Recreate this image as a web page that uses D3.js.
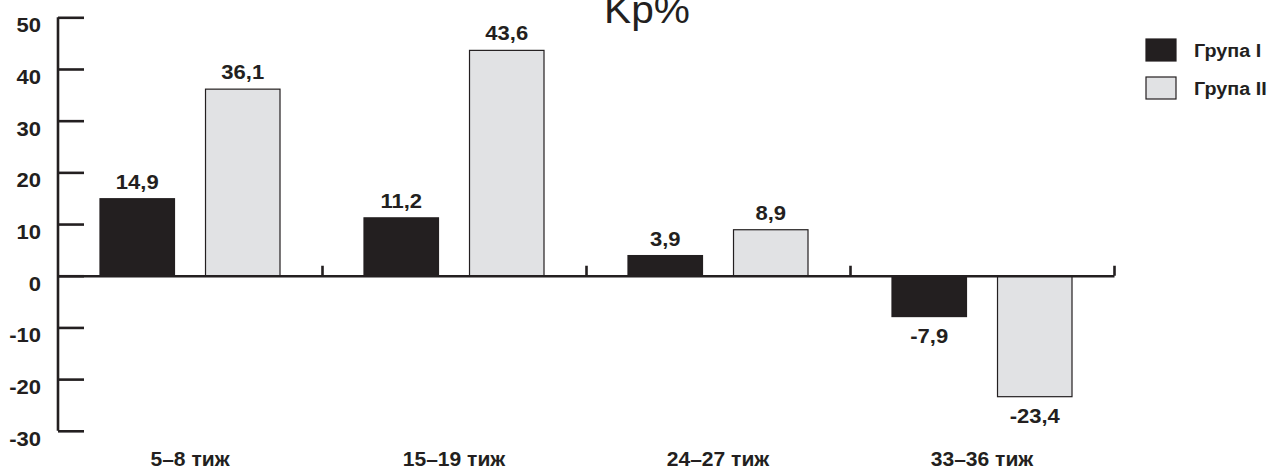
<!DOCTYPE html>
<html>
<head>
<meta charset="utf-8">
<script src="https://cdn.jsdelivr.net/npm/d3@7"></script>
<style>
  html, body { margin: 0; padding: 0; background: #fff; }
  svg { display: block; font-family: "Liberation Sans", Arial, Helvetica, sans-serif; }
</style>
</head>
<body>
<svg id="chart" width="1276" height="470"></svg>
<script>
// Weeks of gestation and Kp% for the two groups
const categories = ["5–8 тиж", "15–19 тиж", "24–27 тиж", "33–36 тиж"];
const seriesNames = ["Група I", "Група II"];
const group1 = [14.9, 11.2, 3.9, -7.9];
const group2 = [36.1, 43.6, 8.9, -23.4];
const yTicks = [50, 40, 30, 20, 10, 0, -10, -20, -30];
const title = "Kp%";

const ink = "#231f20";
const colors = ["#231f20", "#e1e2e4"];
const stretch = 1.13; // wide grotesque look for labels

const svg = d3.select("#chart");
const plotLeft = 58, plotRight = 1114, plotTop = 17.3, plotBottom = 430.8;

const x0 = d3.scaleBand().domain(categories).range([plotLeft, plotRight]).paddingInner(0).paddingOuter(0);
const x1 = d3.scaleBand().domain(seriesNames).range([0, x0.bandwidth()]).paddingInner(0.294).paddingOuter(0.398);
const y = d3.scaleLinear().domain([-30, 50]).range([plotBottom, plotTop]);

const rows = categories.map((c, i) => ({ cat: c, vals: [group1[i], group2[i]] }));

// places a text at (x, y) with horizontal stretch
function place(sel, fx, fy, sx) {
  return sel.attr("x", 0).attr("y", 0)
    .attr("transform", (d, i) => `translate(${fx(d, i)},${fy(d, i)}) scale(${sx},1)`);
}

// Bars
const groups = svg.append("g").selectAll("g").data(rows).join("g")
  .attr("transform", d => `translate(${x0(d.cat)},0)`);

groups.selectAll("rect").data(d => d.vals.map((v, k) => ({ v, k })))
  .join("rect")
  .attr("x", d => x1(seriesNames[d.k]))
  .attr("width", x1.bandwidth())
  .attr("y", d => y(Math.max(0, d.v)))
  .attr("height", d => Math.abs(y(d.v) - y(0)))
  .attr("fill", d => colors[d.k])
  .attr("stroke", ink)
  .attr("stroke-width", 1.2);

// Value labels
const fmt = v => String(v).replace(".", ",");
groups.selectAll("text").data(d => d.vals.map((v, k) => ({ v, k })))
  .join("text")
  .call(place,
    d => x1(seriesNames[d.k]) + x1.bandwidth() / 2,
    d => d.v >= 0 ? y(d.v) - 10 : y(d.v) + 26,
    stretch)
  .attr("text-anchor", "middle")
  .attr("font-size", 19.5)
  .attr("font-weight", "bold")
  .attr("fill", ink)
  .text(d => fmt(d.v));

// Y axis: inward ticks
const yAxis = d3.axisRight(y).tickValues(yTicks).tickSize(26).tickFormat("");
const gy = svg.append("g").attr("transform", `translate(${plotLeft},0)`).call(yAxis);
gy.select(".domain").attr("stroke", ink).attr("stroke-width", 2.6)
  .attr("d", `M0,${plotTop}V${plotBottom}`);
gy.selectAll(".tick line").attr("stroke", ink).attr("stroke-width", 2.6);

svg.append("g").selectAll("text").data(yTicks).join("text")
  .call(place, () => 41, d => y(d) + 15, stretch)
  .attr("text-anchor", "end")
  .attr("font-size", 19.5)
  .attr("font-weight", "bold")
  .attr("fill", ink)
  .text(d => d);

// X axis along zero, with category boundary ticks pointing up
const boundaries = categories.map(c => x0(c) + x0.bandwidth());
const xAxisScale = d3.scaleLinear().domain([plotLeft, plotRight]).range([plotLeft, plotRight]);
const gx = svg.append("g").attr("transform", `translate(0,${y(0)})`)
  .call(d3.axisTop(xAxisScale).tickValues(boundaries).tickSize(10).tickSizeOuter(0).tickFormat(""));
gx.select(".domain").attr("stroke", ink).attr("stroke-width", 2.6);
gx.selectAll(".tick line").attr("stroke", ink).attr("stroke-width", 2.6);

// Category labels
svg.append("g").selectAll("text").data(categories).join("text")
  .call(place, d => x0(d) + x0.bandwidth() / 2, () => 466, 1.08)
  .attr("text-anchor", "middle")
  .attr("font-size", 19.5)
  .attr("font-weight", "bold")
  .attr("fill", ink)
  .text(d => d);

// Title
svg.append("text")
  .attr("transform", "translate(647,23) scale(1.07,1)")
  .attr("text-anchor", "middle")
  .attr("font-size", 38)
  .attr("fill", ink)
  .text(title);

// Legend
const legend = svg.append("g").selectAll("g").data(seriesNames).join("g")
  .attr("transform", (d, i) => `translate(1146,${39 + i * 38})`);
legend.append("rect")
  .attr("width", 30).attr("height", 22)
  .attr("fill", (d, i) => colors[i])
  .attr("stroke", ink).attr("stroke-width", 1.2);
legend.append("text")
  .call(place, () => 48, () => 17.5, stretch)
  .attr("font-size", 17.5)
  .attr("font-weight", "bold")
  .attr("fill", ink)
  .text(d => d);
</script>
</body>
</html>
